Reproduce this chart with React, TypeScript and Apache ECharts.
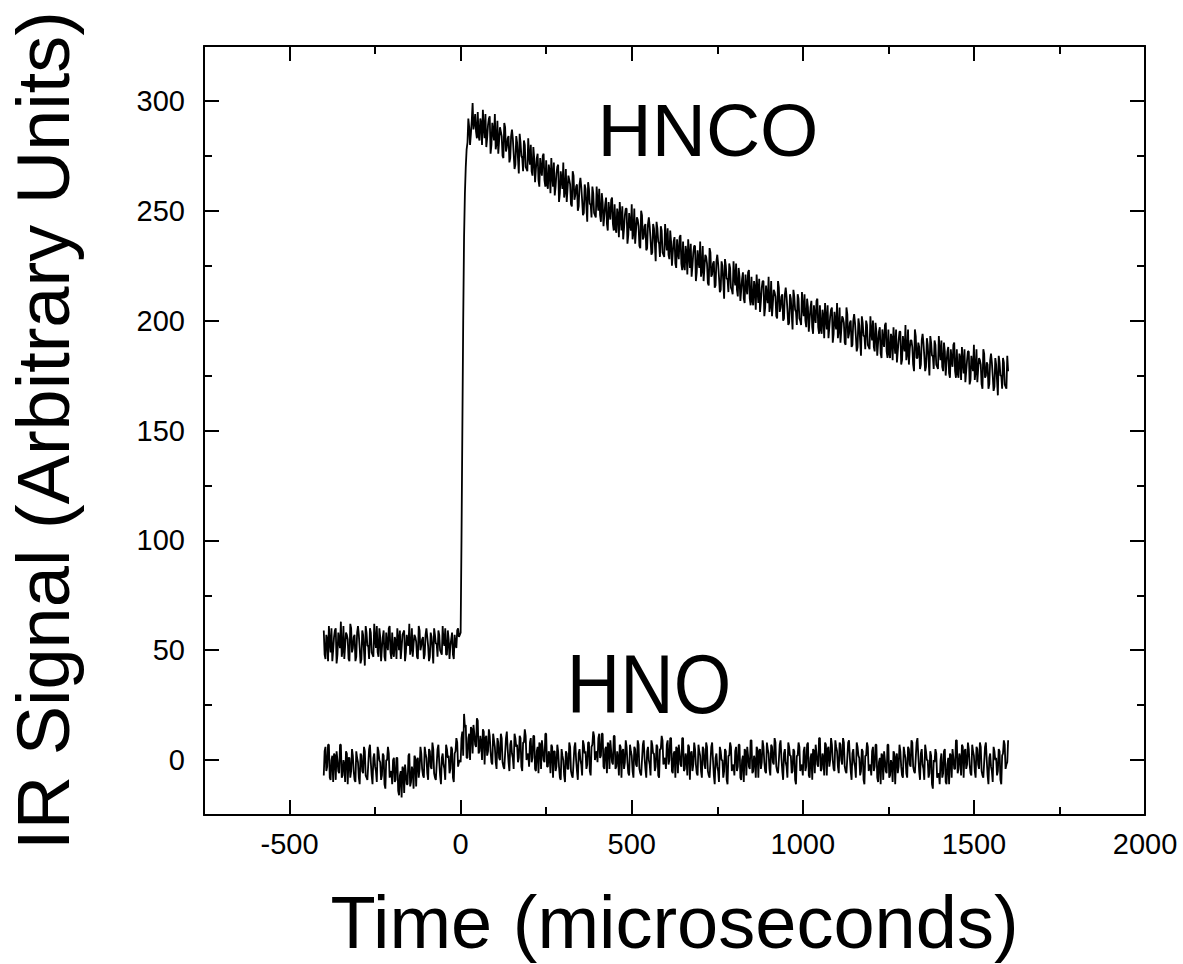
import React, { useEffect, useRef } from "react";
import * as echarts from "echarts";

// Sampling grid of the recorded traces (microseconds):
// "A" samples at -400, -395, ... 1600; "B" samples half a step later (-397.5 ... 1597.5)
const T_START = -400;
const T_STEP = 5;

// HNCO trace (arbitrary units), A samples
const hncoSignal: number[] = [
  59, 46, 55, 61, 49, 45, 56, 60, 48, 54, 63, 50, 46, 58, 55, 45, 60, 51, 57, 47,
  61, 51, 46, 57, 43, 58, 52, 60, 49, 47, 55, 61, 47, 56, 51, 59, 45, 53, 60, 49,
  58, 47, 54, 60, 50, 46, 57, 59, 49, 53, 62, 51, 47, 57, 54, 46, 59, 52, 56, 48,
  60, 52, 47, 56, 44, 57, 53, 59, 50, 48, 54, 60, 48, 55, 52, 58, 46, 53, 59, 56,
  58, 150, 238, 270, 281, 288, 285, 299, 290, 286,
  295, 282, 290, 296, 283, 279, 289, 293, 280, 286, 294, 281, 276, 288, 284, 274, 288, 279, 284, 274,
  287, 276, 271, 281, 267, 281, 274, 282, 270, 268, 275, 280, 266, 274, 269, 276, 261, 269, 275, 264,
  273, 260, 268, 274, 261, 257, 267, 271, 258, 264, 272, 259, 254, 266, 262, 252, 266, 257, 262, 252,
  265, 255, 249, 260, 245, 260, 253, 261, 249, 247, 254, 260, 245, 254, 248, 256, 241, 249, 255, 244,
  253, 240, 248, 254, 241, 237, 248, 251, 239, 244, 253, 240, 235, 247, 243, 233, 248, 238, 244, 233,
  247, 237, 231, 242, 227, 242, 235, 243, 231, 229, 237, 242, 228, 236, 231, 238, 224, 231, 238, 226,
  236, 223, 231, 237, 224, 220, 231, 234, 222, 227, 236, 223, 218, 230, 226, 216, 231, 221, 227, 216,
  230, 220, 214, 225, 210, 225, 219, 226, 215, 212, 220, 226, 211, 220, 214, 222, 208, 215, 222, 210,
  220, 207, 215, 221, 208, 204, 215, 218, 206, 211, 220, 207, 202, 214, 211, 201, 215, 206, 212, 201,
  215, 205, 199, 210, 196, 211, 204, 212, 201, 198, 206, 212, 197, 206, 201, 209, 194, 202, 209, 197,
  207, 194, 202, 208, 196, 192, 202, 206, 194, 199, 208, 196, 190, 202, 199, 189, 203, 194, 200, 189,
  203, 193, 188, 198, 184, 199, 193, 200, 189, 187, 195, 200, 186, 195, 190, 197, 183, 191, 198, 186,
  196, 183, 192, 197, 185, 181, 191, 195, 182, 189, 198, 185, 180, 191, 188, 177, 193, 183, 188, 180,
  194, 184, 179, 189, 175, 190, 184, 191, 180, 178, 186, 191, 177, 186, 181, 188, 174, 182, 189, 177,
  187, 174, 183, 188, 176, 172, 182, 186, 173, 180, 189, 177, 172, 183, 180, 169, 185, 175, 180, 171,
  185, 175, 170, 180, 166, 181, 175, 183, 171, 169, 177,
];

// HNCO trace, B samples (half a step after each A sample)
const hncoSignalB: number[] = [
  48, 57, 45, 54, 60, 50, 59, 44, 58, 51, 47, 61, 52, 57, 46, 62, 49, 56, 45, 58,
  57, 44, 59, 50, 61, 52, 46, 58, 48, 62, 51, 49, 60, 45, 56, 47, 58, 50, 61, 46,
  49, 56, 46, 55, 59, 51, 58, 45, 57, 52, 48, 60, 53, 56, 47, 61, 50, 55, 46, 57,
  56, 45, 58, 51, 60, 53, 47, 57, 49, 61, 52, 48, 59, 46, 55, 48, 57, 51, 60, 57,
  100, 200, 258, 278, 292, 280, 291, 287, 294, 283,
  284, 292, 280, 288, 294, 283, 292, 276, 290, 282, 278, 291, 282, 286, 275, 290, 277, 283, 272, 284,
  283, 269, 284, 274, 285, 275, 268, 280, 269, 283, 271, 268, 279, 263, 274, 264, 274, 266, 276, 261,
  262, 271, 258, 266, 272, 261, 270, 254, 268, 260, 256, 269, 260, 264, 253, 268, 255, 261, 250, 262,
  261, 248, 262, 252, 263, 253, 247, 258, 248, 261, 250, 248, 258, 243, 253, 244, 254, 246, 256, 241,
  242, 251, 238, 247, 252, 242, 251, 235, 249, 241, 237, 251, 241, 246, 234, 250, 237, 243, 232, 244,
  243, 230, 244, 235, 245, 236, 229, 241, 230, 244, 232, 230, 241, 225, 236, 226, 237, 228, 239, 223,
  225, 234, 221, 230, 235, 225, 234, 218, 232, 224, 220, 234, 224, 229, 217, 233, 220, 226, 215, 227,
  226, 213, 227, 218, 228, 219, 213, 224, 214, 227, 216, 214, 224, 209, 219, 210, 221, 212, 223, 207,
  209, 218, 205, 214, 219, 209, 218, 202, 216, 208, 204, 218, 208, 213, 202, 218, 204, 211, 200, 212,
  211, 198, 212, 203, 214, 205, 198, 210, 200, 213, 202, 200, 210, 195, 206, 197, 207, 199, 210, 194,
  196, 205, 192, 201, 207, 197, 205, 190, 204, 196, 192, 206, 196, 201, 190, 206, 192, 199, 188, 200,
  199, 186, 201, 191, 202, 193, 187, 198, 188, 202, 191, 188, 199, 184, 195, 185, 196, 188, 199, 183,
  185, 194, 182, 190, 196, 186, 195, 180, 193, 186, 182, 196, 187, 191, 180, 196, 183, 190, 178, 191,
  190, 177, 192, 182, 193, 184, 178, 189, 179, 193, 182, 179, 190, 175, 186, 176, 187, 179, 190, 174,
  176, 185, 173, 181, 187, 177, 186, 171, 184, 177, 173, 187, 178, 182, 171, 187, 174, 181, 169, 182,
  181, 168, 183, 173, 184, 175, 169, 181, 170, 184,
];

// HNO trace (arbitrary units), A samples
const hnoSignal: number[] = [
  -7, 6, -3, 7, -9, 2, 3, -9, 0, -6, 7, -7, -2, 4, -11, 1, -5, 2, -9, 4,
  -1, -11, 2, -6, 4, -8, -2, 7, -7, 1, -3, -10, 4, -1, -7, 2, -13, 0, 3, -6,
  -11, 1, -9, 1, -16, -5, -3, -15, -6, -11, 3, -10, -5, 2, -12, 1, -4, 3, -7, 6,
  1, -9, 4, -4, 5, -8, -2, 7, -7, 1, -2, -9, 5, 2, -4, 5, -10, 4, 8, -1,
  -1, 13, 21, 16, 1, 12, 15, 3, 12, 6, 18, 4, 8, 14, -2, 11, 4, 11, -1, 12,
  6, -4, 8, 0, 10, -3, 3, 13, -1, 7, 3, -4, 10, 7, 1, 10, -5, 8, 11, 2,
  -3, 10, 1, 11, -5, 6, 8, -4, 5, -1, 12, -3, 2, 7, -8, 4, -3, 4, -8, 5,
  0, -10, 3, -4, 6, -7, -1, 8, -5, 3, 0, -7, 7, 4, -2, 8, -7, 7, 11, 3,
  -1, 12, 2, 12, -4, 6, 8, -4, 4, -2, 11, -3, 1, 7, -8, 5, -1, 6, -6, 7,
  2, -8, 5, -3, 7, -6, 0, 9, -4, 4, 0, -7, 7, 3, -3, 6, -8, 5, 9, 0,
  -4, 9, 0, 10, -6, 4, 6, -6, 3, -3, 10, -4, 1, 7, -9, 4, -2, 5, -6, 7,
  2, -8, 5, -4, 6, -7, -1, 8, -7, 1, -3, -10, 4, 0, -5, 4, -11, 2, 6, -3,
  -7, 6, -3, 7, -9, 2, 5, -7, 2, -4, 9, -5, 0, 6, -8, 5, -1, 6, -5, 8,
  3, -7, 6, -2, 8, -5, 0, 9, -5, 3, -1, -8, 6, 2, -5, 4, -11, 2, 6, -3,
  -7, 6, -3, 8, -8, 3, 5, -6, 3, -3, 10, -4, 1, 8, -7, 6, 0, 7, -4, 9,
  4, -6, 7, -2, 8, -5, 1, 9, -5, 3, -1, -8, 6, 1, -5, 4, -11, 2, 6, -3,
  -7, 6, -3, 7, -10, 1, 3, -9, 0, -6, 7, -7, -2, 4, -11, 3, -3, 4, -7, 6,
  1, -8, 5, -3, 8, -5, 1, 10, -5, 3, -2, -9, 4, 0, -6, 2, -13, -1, 3, -7,
  -11, 3, -6, 5, -11, 1, 3, -8, 1, -4, 9, -4, 1, 7, -8, 5, -2, 5, -6, 7,
  2, -8, 5, -4, 6, -7, -1, 8, -7, 1, -3, -10, 4, 1, -5, 4, -11, 3, 7, -2, 9,
];

// HNO trace, B samples (half a step after each A sample)
const hnoSignalB: number[] = [
  4, -5, 7, -8, 0, -10, 2, 4, -5, 7, -8, 0, -10, 3, 1, -8, 5, -5, -10, 1,
  -8, 3, -5, 6, -7, -9, 5, -1, -11, 3, -5, 6, 0, -9, 3, -11, 0, 6, -8, -5,
  0, -10, 1, -14, -7, -17, -4, -2, -11, 2, -12, -3, -13, 1, 0, -8, 6, -4, -8, 3,
  -6, 5, -3, 8, -6, -9, 5, -1, -11, 3, -4, 7, 1, -6, 6, -8, 3, 10, -3, 0,
  10, 2, 15, 1, 10, 0, 14, 16, 7, 19, 3, 11, 0, 13, 10, 2, 14, 4, -2, 9,
  -1, 10, 1, 12, -1, -4, 10, 5, -5, 9, 1, 12, 6, -1, 11, -3, 8, 14, 0, 3,
  8, -1, 11, -4, 4, -6, 7, 9, 0, 12, -3, 4, -6, 6, 4, -5, 7, -3, -9, 2,
  -7, 4, -4, 8, -5, -8, 6, 0, -9, 5, -2, 9, 3, -4, 8, -5, 6, 13, 0, 4,
  10, 1, 12, -3, 5, -6, 7, 9, -1, 11, -4, 4, -7, 6, 4, -4, 9, -1, -7, 4,
  -5, 6, -2, 9, -4, -7, 7, 1, -8, 6, -2, 9, 3, -5, 7, -7, 5, 11, -2, 1,
  7, -2, 10, -5, 3, -8, 5, 7, -2, 10, -5, 3, -7, 6, 3, -5, 8, -2, -7, 4,
  -5, 6, -2, 8, -5, -8, 6, 0, -11, 3, -5, 6, 0, -8, 5, -9, 2, 8, -5, -2,
  4, -5, 7, -8, 0, -10, 4, 6, -3, 9, -6, 2, -8, 5, 4, -4, 9, -1, -6, 5,
  -4, 7, -1, 10, -3, -6, 7, 1, -9, 5, -3, 8, 2, -6, 5, -9, 2, 8, -5, -2,
  4, -5, 7, -7, 1, -9, 4, 7, -2, 10, -5, 3, -7, 7, 5, -3, 10, 0, -5, 6,
  -3, 8, 0, 10, -3, -6, 8, 1, -9, 5, -3, 8, 2, -7, 5, -9, 2, 8, -5, -2,
  4, -5, 7, -8, -1, -11, 2, 4, -5, 7, -8, 0, -10, 3, 1, -6, 7, -3, -8, 3,
  -6, 6, -2, 9, -3, -6, 8, 2, -9, 5, -4, 7, 0, -8, 4, -11, 0, 5, -8, -6,
  0, -8, 4, -10, -2, -11, 2, 5, -4, 9, -6, 3, -7, 6, 4, -4, 8, -2, -7, 4,
  -5, 6, -2, 8, -5, -8, 6, 0, -11, 3, -5, 6, 0, -7, 5, -9, 2, 9, -4, -1,
];

// Axis ticks
const xMajorTicks = [-500, 0, 500, 1000, 1500, 2000];
const yMajorTicks = [0, 50, 100, 150, 200, 250, 300];

// Annotations
const annotations = [
  { text: "HNCO" },
  { text: "HNO" },
];

const FONT = "'Liberation Sans', Arial, Helvetica, sans-serif";

function toPairs(a: number[], b: number[]): [number, number][] {
  const out: [number, number][] = [];
  for (let i = 0; i < a.length; i++) {
    const t = T_START + i * T_STEP;
    out.push([t, a[i]]);
    if (i < b.length) out.push([t + T_STEP / 2, b[i]]);
  }
  return out;
}

export default function App() {
  const ref = useRef<HTMLDivElement>(null);

  useEffect(() => {
    if (!ref.current) return;
    const chart = echarts.init(ref.current, undefined, { renderer: "svg" });

    const lineStyle = { color: "#000", width: 2 };
    const plain = (v: number) => `${v}`;
    const baseX = {
      type: "value" as const,
      min: -750,
      max: 2000,
      splitLine: { show: false },
    };
    const baseY = {
      type: "value" as const,
      min: -25,
      max: 325,
      splitLine: { show: false },
    };
    const traceStyle = { color: "#000", width: 1.8, join: "bevel" as const };

    const option: any = {
      animation: false,
      backgroundColor: "#fff",
      grid: {
        left: 204,
        top: 46,
        right: 38,
        bottom: 149,
        containLabel: false,
        outerBoundsMode: "none",
      },
      xAxis: [
        {
          ...baseX,
          position: "bottom",
          axisLine: { show: true, onZero: false, lineStyle },
          axisTick: { show: true, inside: true, length: 15, customValues: xMajorTicks, lineStyle },
          axisLabel: {
            show: true,
            customValues: xMajorTicks,
            formatter: plain,
            fontSize: 29,
            color: "#000",
            fontFamily: FONT,
            margin: 14,
          },
          name: "Time (microseconds)",
          nameLocation: "middle",
          nameGap: 70,
          nameTextStyle: { fontSize: 74, color: "#000", fontFamily: FONT },
        },
        {
          ...baseX,
          position: "bottom",
          interval: 250,
          axisLine: { show: false, onZero: false },
          axisTick: { show: true, inside: true, length: 8, lineStyle },
          axisLabel: { show: false },
        },
        {
          ...baseX,
          position: "top",
          axisLine: { show: true, onZero: false, lineStyle },
          axisTick: { show: true, inside: true, length: 15, customValues: xMajorTicks, lineStyle },
          axisLabel: { show: false },
        },
        {
          ...baseX,
          position: "top",
          interval: 250,
          axisLine: { show: false, onZero: false },
          axisTick: { show: true, inside: true, length: 8, lineStyle },
          axisLabel: { show: false },
        },
      ],
      yAxis: [
        {
          ...baseY,
          position: "left",
          axisLine: { show: true, onZero: false, lineStyle },
          axisTick: { show: true, inside: true, length: 15, customValues: yMajorTicks, lineStyle },
          axisLabel: {
            show: true,
            customValues: yMajorTicks,
            formatter: plain,
            fontSize: 29,
            color: "#000",
            fontFamily: FONT,
            margin: 19,
          },
          name: "IR Signal (Arbitrary Units)",
          nameLocation: "middle",
          nameRotate: 90,
          nameGap: 124,
          nameTextStyle: { fontSize: 74, color: "#000", fontFamily: FONT },
        },
        {
          ...baseY,
          position: "left",
          interval: 25,
          axisLine: { show: false, onZero: false },
          axisTick: { show: true, inside: true, length: 8, lineStyle },
          axisLabel: { show: false },
        },
        {
          ...baseY,
          position: "right",
          axisLine: { show: true, onZero: false, lineStyle },
          axisTick: { show: true, inside: true, length: 15, customValues: yMajorTicks, lineStyle },
          axisLabel: { show: false },
        },
        {
          ...baseY,
          position: "right",
          interval: 25,
          axisLine: { show: false, onZero: false },
          axisTick: { show: true, inside: true, length: 8, lineStyle },
          axisLabel: { show: false },
        },
      ],
      series: [
        {
          name: "HNCO",
          type: "line",
          xAxisIndex: 0,
          yAxisIndex: 0,
          data: toPairs(hncoSignal, hncoSignalB),
          showSymbol: false,
          symbol: "none",
          lineStyle: traceStyle,
          silent: true,
        },
        {
          name: "HNO",
          type: "line",
          xAxisIndex: 0,
          yAxisIndex: 0,
          data: toPairs(hnoSignal, hnoSignalB),
          showSymbol: false,
          symbol: "none",
          lineStyle: traceStyle,
          silent: true,
        },
      ],
      graphic: [
        {
          type: "text",
          x: 708,
          y: 130,
          style: {
            text: annotations[0].text,
            fontSize: 75,
            fontFamily: FONT,
            fill: "#000",
            align: "center",
            verticalAlign: "middle",
          },
        },
        {
          type: "text",
          x: 649,
          y: 685,
          scaleY: 1.12,
          style: {
            text: annotations[1].text,
            fontSize: 74,
            fontFamily: FONT,
            fill: "#000",
            align: "center",
            verticalAlign: "middle",
          },
        },
      ],
    };

    chart.setOption(option);
    return () => chart.dispose();
  }, []);

  return (
    <div
      ref={ref}
      style={{ position: "fixed", left: 0, top: 0, width: 1183, height: 964, background: "#fff" }}
    />
  );
}
